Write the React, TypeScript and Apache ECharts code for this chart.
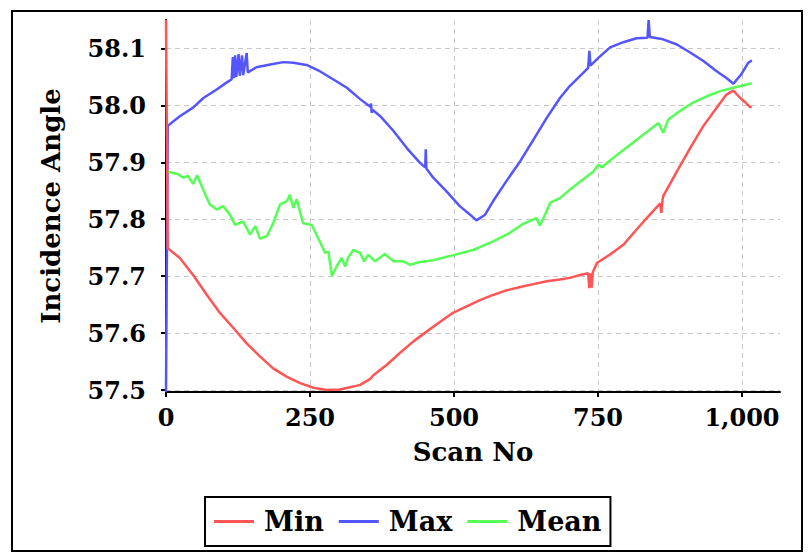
import React, { useEffect, useRef } from "react";
import * as echarts from "echarts";

const xTicks = [0, 250, 500, 750, 1000];
const yTicks = [57.5, 57.6, 57.7, 57.8, 57.9, 58.0, 58.1];
const seriesNames = ["Min", "Max", "Mean"];

const minData: [number, number][] = [
  [0, 58.15], [3, 57.749], [24, 57.732], [47, 57.702], [71, 57.667], [94, 57.635],
  [117, 57.609], [140, 57.582], [163, 57.559], [186, 57.538], [210, 57.523],
  [233, 57.512], [256, 57.504], [279, 57.5], [302, 57.501], [325, 57.506],
  [337, 57.509], [354, 57.519], [360, 57.526], [383, 57.544], [406, 57.565],
  [429, 57.585], [453, 57.603], [476, 57.62], [499, 57.636], [522, 57.647],
  [545, 57.658], [568, 57.667], [591, 57.675], [615, 57.681], [638, 57.686],
  [661, 57.691], [684, 57.694], [701, 57.697], [719, 57.702], [733, 57.705],
  [735, 57.679], [737, 57.705], [739, 57.68], [741, 57.707], [748, 57.723],
  [771, 57.738], [794, 57.755], [817, 57.782], [840, 57.808], [858, 57.828],
  [860, 57.811], [862, 57.834], [863, 57.84], [887, 57.884], [910, 57.925],
  [933, 57.964], [956, 57.996], [973, 58.019], [985, 58.026], [997, 58.013],
  [1005, 58.006], [1014, 57.997], [1017, 57.997],
];

const maxData: [number, number][] = [
  [0, 57.4965], [3, 57.964], [24, 57.981], [47, 57.996], [65, 58.013], [88, 58.028],
  [105, 58.04], [114, 58.046], [116, 58.085], [118, 58.048], [120, 58.088],
  [122, 58.05], [126, 58.09], [128, 58.052], [132, 58.088], [134, 58.053],
  [140, 58.092], [142, 58.058], [157, 58.067], [181, 58.072], [204, 58.076],
  [221, 58.075], [244, 58.071], [267, 58.06], [290, 58.046], [314, 58.031],
  [337, 58.011], [354, 57.998], [356, 58.003], [357, 57.987], [359, 57.992],
  [372, 57.981], [395, 57.955], [418, 57.925], [441, 57.899], [450, 57.891],
  [451, 57.923], [452, 57.889], [464, 57.873], [487, 57.849], [510, 57.823],
  [528, 57.808], [539, 57.798], [554, 57.808], [568, 57.832], [591, 57.867],
  [615, 57.902], [638, 57.94], [661, 57.978], [684, 58.013], [701, 58.034],
  [719, 58.052], [733, 58.066], [735, 58.096], [737, 58.07], [751, 58.084],
  [771, 58.102], [794, 58.111], [817, 58.118], [836, 58.119], [838, 58.15],
  [840, 58.12], [863, 58.116], [887, 58.107], [910, 58.093], [933, 58.078],
  [956, 58.06], [973, 58.048], [985, 58.038], [999, 58.055], [1011, 58.075],
  [1017, 58.079],
];

const meanData: [number, number][] = [
  [0, 57.884], [19, 57.88], [30, 57.873], [38, 57.876], [47, 57.862], [54, 57.877],
  [62, 57.858], [76, 57.826], [88, 57.817], [99, 57.823], [111, 57.808],
  [120, 57.79], [134, 57.796], [146, 57.773], [155, 57.788], [163, 57.766],
  [175, 57.77], [186, 57.793], [198, 57.826], [210, 57.832], [215, 57.843],
  [221, 57.82], [227, 57.835], [238, 57.793], [253, 57.79], [267, 57.761],
  [276, 57.741], [282, 57.743], [288, 57.7], [296, 57.717], [305, 57.732],
  [311, 57.717], [316, 57.732], [325, 57.746], [337, 57.741], [344, 57.726],
  [351, 57.738], [363, 57.726], [380, 57.739], [395, 57.726], [412, 57.726],
  [424, 57.72], [441, 57.725], [464, 57.728], [499, 57.737], [533, 57.746],
  [568, 57.761], [597, 57.776], [620, 57.792], [643, 57.802], [649, 57.789],
  [658, 57.808], [667, 57.829], [684, 57.837], [701, 57.852], [724, 57.87],
  [742, 57.884], [751, 57.896], [756, 57.891], [777, 57.908], [806, 57.931],
  [829, 57.949], [855, 57.969], [863, 57.952], [872, 57.975], [892, 57.99],
  [915, 58.005], [939, 58.016], [962, 58.025], [985, 58.031], [1017, 58.039],
];

const colors = ["#ff5555", "#5555ff", "#55ff55"];
const FONT = "DejaVu Serif";

export default function App() {
  const ref = useRef<HTMLDivElement>(null);
  useEffect(() => {
    if (!ref.current) return;
    const chart = echarts.init(ref.current, undefined, { renderer: "svg" });
    const dataSets = [minData, maxData, meanData];
    chart.setOption({
      animation: false,
      backgroundColor: "#fff",
      textStyle: { fontFamily: FONT },
      grid: { left: 166, right: 32, top: 20, bottom: 161, containLabel: false },
      graphic: [
        {
          type: "rect",
          silent: true,
          shape: { x: 12, y: 11, width: 790, height: 540 },
          style: { fill: "none", stroke: "#000", lineWidth: 2 },
        },
      ],
      legend: {
        left: 205,
        top: 497,
        orient: "horizontal",
        padding: [11, 9, 11, 9],
        itemGap: 15,
        itemWidth: 40,
        itemHeight: 3,
        borderColor: "#000",
        borderWidth: 2,
        icon: "rect",
        data: seriesNames,
        textStyle: {
          fontFamily: FONT,
          fontWeight: "bold",
          fontSize: 27,
          color: "#000",
          padding: [0, 0, 0, 5],
        },
      },
      xAxis: {
        type: "value",
        min: 0,
        max: 1066,
        name: "Scan No",
        nameLocation: "middle",
        nameGap: 47,
        nameTextStyle: { fontFamily: FONT, fontWeight: "bold", fontSize: 26, color: "#000" },
        axisLine: { show: true, lineStyle: { color: "#000", width: 2 } },
        axisTick: { show: true, length: 5, lineStyle: { color: "#000", width: 2 }, customValues: xTicks },
        axisLabel: {
          customValues: xTicks,
          fontFamily: FONT,
          fontWeight: "bold",
          fontSize: 24,
          color: "#000",
          margin: 13,
          formatter: (v: number) => v.toLocaleString("en-US"),
        },
        splitLine: { show: true, lineStyle: { color: "#c8c8c8", type: [5, 4], width: 1 } },
      },
      yAxis: {
        type: "value",
        min: 57.4965,
        max: 58.15,
        name: "Incidence Angle",
        nameLocation: "middle",
        nameGap: 102,
        nameTextStyle: { fontFamily: FONT, fontWeight: "bold", fontSize: 26, color: "#000" },
        axisLine: { show: true, lineStyle: { color: "#000", width: 2 } },
        axisTick: { show: true, length: 5, lineStyle: { color: "#000", width: 2 }, customValues: yTicks },
        axisLabel: {
          customValues: yTicks,
          fontFamily: FONT,
          fontWeight: "bold",
          fontSize: 24,
          color: "#000",
          margin: 20,
          formatter: (v: number) => v.toFixed(1),
        },
        splitLine: { show: true, lineStyle: { color: "#c8c8c8", type: [5, 4], width: 1 } },
      },
      series: seriesNames.map((name, i) => ({
        name,
        type: "line",
        data: dataSets[i],
        showSymbol: false,
        clip: false,
        z: i === 0 ? 4 : 3,
        color: colors[i],
        lineStyle: { color: colors[i], width: 2.5 },
      })),
    });
    return () => chart.dispose();
  }, []);
  return (
    <div
      ref={ref}
      style={{ position: "absolute", left: 0, top: 0, width: 812, height: 553 }}
    />
  );
}
